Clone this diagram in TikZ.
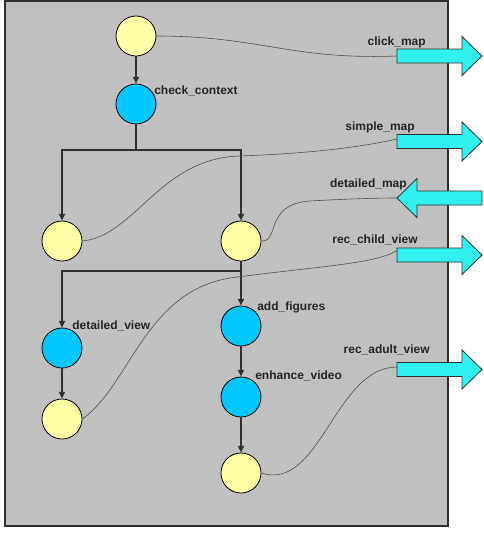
\documentclass[tikz,border=0pt]{standalone}
\usepackage{fontspec}
\setmainfont{Liberation Sans}
\usetikzlibrary{arrows.meta,positioning}

\definecolor{panelgray}{HTML}{C0C0C0}
\definecolor{stateyellow}{HTML}{FFFFA8}
\definecolor{actblue}{HTML}{00C8FF}
\definecolor{portcyan}{HTML}{30F0F0}
\definecolor{flowgray}{HTML}{303030}
\definecolor{linkgray}{HTML}{505050}

\begin{document}
\begin{tikzpicture}[x=0.75pt,y=-0.75pt,>={Triangle[length=5pt,width=4.5pt]},
  state/.style={circle,draw=black,fill=stateyellow,minimum size=30pt,inner sep=0pt,line width=0.6pt},
  act/.style={state,fill=actblue},
  lbl/.style={anchor=west,inner sep=0pt,font=\fontsize{9}{10}\selectfont\bfseries,text=black!85},
  flow/.style={draw=flowgray,line width=1pt},
  link/.style={draw=linkgray,line width=0.45pt},
  port/.style={draw=flowgray,fill=portcyan,line width=0.6pt}]

\useasboundingbox (0,0) rectangle (484,536);

% =====================
% Pannello
% =====================
\draw[fill=panelgray,draw=flowgray,line width=1.1pt] (5,1) rectangle (448,526);

% =====================
% Porte (frecce grandi)
% =====================
\def\ClickY{56}
\def\SimpleY{141.5}
\def\DetY{198}
\def\ChildY{255}
\def\AdultY{369.5}

\foreach \c in {\ClickY,\SimpleY,\ChildY,\AdultY} {
  \draw[port] (397,\c-7) -- (462,\c-7) -- (462,\c-19.5) -- (482,\c)
    -- (462,\c+19.5) -- (462,\c+7) -- (397,\c+7) -- cycle;
}
\draw[port] (397,\DetY) -- (417,\DetY-19.5) -- (417,\DetY-7) -- (482,\DetY-7)
  -- (482,\DetY+7) -- (417,\DetY+7) -- (417,\DetY+19.5) -- cycle;

\coordinate (pclick) at (397,\ClickY);
\coordinate (psimple) at (397,\SimpleY-2.5);
\coordinate (pdet) at (397,\DetY);
\coordinate (pchild) at (397,\ChildY-4.5);
\coordinate (padult) at (397,\AdultY-2.5);

\node[lbl,anchor=east] (lclick) at (426,42) {click\_map};
\node[lbl,anchor=east] (lsimple) at (415,127) {simple\_map};
\node[lbl,anchor=east] (ldet) at (407,184) {detailed\_map};
\node[lbl,anchor=east] (lchild) at (418,240) {rec\_child\_view};
\node[lbl,anchor=east] (ladult) at (430,350) {rec\_adult\_view};

% =====================
% Stati e attivita'
% =====================
\node[state] (start) at (136,36) {};
\node[act] (check) at (136,104) {};
\node[state] (ly) at (62,241) {};
\node[state] (ry) at (241,241) {};
\node[act] (dview) at (62,348) {};
\node[state] (lbot) at (62,419) {};
\node[act] (addfig) at (241,326) {};
\node[act] (enh) at (241,397) {};
\node[state] (rbot) at (241,473) {};

\node[lbl] (lcheck) at (154,91) {check\_context};
\node[lbl] (laddfig) at (257,307) {add\_figures};
\node[lbl] (ldview) at (72,326) {detailed\_view};
\node[lbl] (lenh) at (255,376) {enhance\_video};

% =====================
% Flusso
% =====================
\coordinate (split1) at (136,150);
\coordinate (split2) at (241,271);

\draw[flow,->] (start) -- (check);
\draw[flow] (check) -- (split1);
\draw[flow,->] (split1) -| (ly);
\draw[flow,->] (split1) -| (ry);
\draw[flow] (ry) -- (split2);
\draw[flow,->] (split2) -| (dview);
\draw[flow,->] (split2) -- (addfig);
\draw[flow,->] (dview) -- (lbot);
\draw[flow,->] (addfig) -- (enh);
\draw[flow,->] (enh) -- (rbot);

% =====================
% Collegamenti alle porte
% =====================
\draw[link] (start.east) .. controls (260,36) and (290,60) .. (pclick);
\draw[link] (ly.east) .. controls (135,236) and (160,158) .. (240,156)
  .. controls (320,153) and (365,146) .. (psimple);
\draw[link] (ry.east) .. controls (280,242) and (264,204) .. (310,201)
  .. controls (345,199) and (375,198) .. (pdet);
\draw[link] (lbot.east) .. controls (130,385) and (145,292) .. (230,278)
  .. controls (320,266) and (375,264) .. (pchild);
\draw[link] (rbot.east) .. controls (320,492) and (335,367) .. (padult);

\end{tikzpicture}
\end{document}
